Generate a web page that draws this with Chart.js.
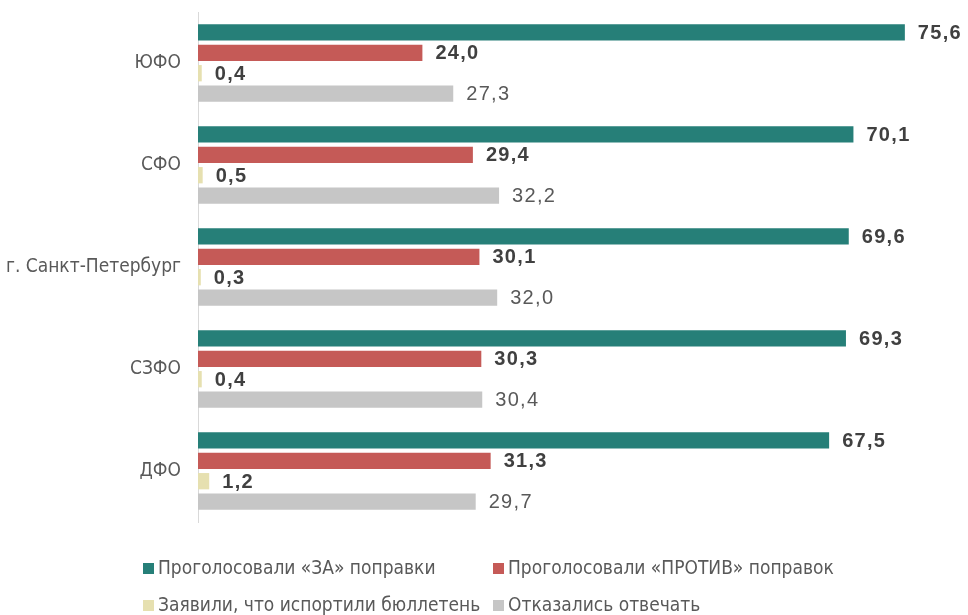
<!DOCTYPE html>
<html><head><meta charset="utf-8">
<script src="https://cdn.jsdelivr.net/npm/chart.js@4"></script>
<style>
html,body{margin:0;padding:0;background:#fff;}
#wrap{position:relative;width:968px;height:615px;}
canvas{position:absolute;left:0;top:0;}
.lg{position:absolute;font-family:'Liberation Sans Narrow','DejaVu Sans Condensed',sans-serif;font-size:19px;color:#595959;white-space:nowrap;line-height:20px;}
.lg span{display:inline-block;width:11px;height:11px;margin-right:4px;vertical-align:0px;}
</style></head>
<body><div id="wrap"><canvas id="c" width="968" height="615"></canvas><div id="legend"></div></div>
<script>
const categories = ['ЮФО','СФО','г. Санкт-Петербург','СЗФО','ДФО'];
const seriesNames = ['Проголосовали «ЗА» поправки','Проголосовали «ПРОТИВ» поправок','Заявили, что испортили бюллетень','Отказались отвечать'];
const valuesFor = [75.6, 70.1, 69.6, 69.3, 67.5];
const valuesAgainst = [24.0, 29.4, 30.1, 30.3, 31.3];
const valuesSpoiled = [0.4, 0.5, 0.3, 0.4, 1.2];
const valuesRefused = [27.3, 32.2, 32.0, 30.4, 29.7];
const colors = ['#267F78','#C55A57','#E6E0B0','#C6C6C6'];

const allValues = [valuesFor, valuesAgainst, valuesSpoiled, valuesRefused];
const labelFontFamily = "'Liberation Sans', Arial, sans-serif";
const axisFont = "'Liberation Sans Narrow','DejaVu Sans Condensed',sans-serif";

const valueLabels = {
  id:'valueLabels',
  afterDatasetsDraw(chart){
    const ctx = chart.ctx;
    chart.data.datasets.forEach((ds,i)=>{
      const meta = chart.getDatasetMeta(i);
      meta.data.forEach((bar,j)=>{
        const v = ds.data[j];
        ctx.save();
        ctx.font = (i<3 ? 'bold ' : '') + '20px ' + labelFontFamily;
        if ('letterSpacing' in ctx) ctx.letterSpacing = '1.3px';
        ctx.fillStyle = i<3 ? '#404040' : '#595959';
        ctx.textAlign = 'left';
        ctx.textBaseline = 'middle';
        ctx.fillText(v.toFixed(1).replace('.',','), bar.x + 13, bar.y + 1);
        ctx.restore();
      });
    });
  }
};

new Chart(document.getElementById('c'), {
  type:'bar',
  data:{
    labels: categories,
    datasets: allValues.map((d,i)=>({label:seriesNames[i], data:d, backgroundColor:colors[i], borderWidth:0, categoryPercentage:0.8, barPercentage:0.8}))
  },
  options:{
    indexAxis:'y',
    responsive:false,
    animation:false,
    layout:{padding:{top:12,bottom:93,right:22,left:0}},
    plugins:{legend:{display:false},tooltip:{enabled:false}},
    scales:{
      x:{display:false,min:0,max:80},
      y:{
        grid:{display:false,drawTicks:false},
        border:{display:true,color:'#D9D9D9',width:1},
        ticks:{color:'#595959',font:{family:axisFont,size:19},padding:17},
        afterFit(s){ s.width = 198; s.paddingTop = 0; s.paddingBottom = 0; }
      }
    }
  },
  plugins:[valueLabels]
});

const lg = document.getElementById('legend');
const pos = [[143,557],[493,557],[143,594],[493,594]];
seriesNames.forEach((n,i)=>{
  const d = document.createElement('div');
  d.className='lg';
  d.style.left=pos[i][0]+'px'; d.style.top=pos[i][1]+'px';
  d.innerHTML='<span style="background:'+colors[i]+'"></span>'+n;
  lg.appendChild(d);
});
</script></body></html>
